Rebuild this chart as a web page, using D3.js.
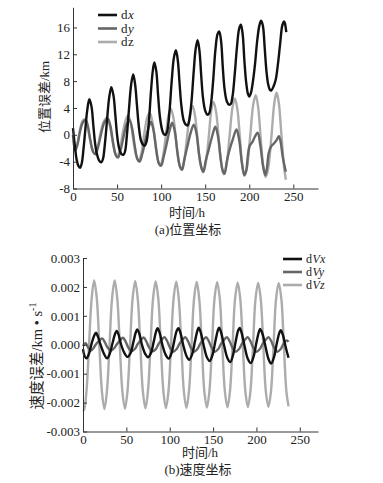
<!DOCTYPE html>
<html><head><meta charset="utf-8">
<script src="https://cdn.jsdelivr.net/npm/d3@7"></script>
<style>body{margin:0;background:#fff}text{font-family:"Liberation Serif","Noto Sans CJK SC",serif}</style>
</head><body>
<svg id="c" width="383" height="483"></svg>
<script>
// ---- panel (a) data: [time h, error km]
const dxPts=[[0,1.0],[2,-1.5],[4,-3.6],[6,-4.6],[8,-4.9],[10,-4.2],[12,-2.0],[14,0.8],[16,3.5],[18.5,5.3],[21,4.2],[23,1.5],[25,-1.2],[27,-2.8],[29.5,-3.8],[32,-4.1],[34,-3.6],[36,-1.6],[38.5,2.0],[41,5.5],[43.5,7.1],[46,5.8],[48,3.0],[50,0.0],[52,-1.8],[54.5,-2.8],[57,-3.0],[59,-2.5],[61,-0.3],[63.5,3.8],[66,7.5],[68.3,9.0],[70.5,7.5],[72.5,4.5],[74.5,1.5],[77,-0.8],[79.5,-1.5],[81.5,-1.6],[83.5,-1.0],[86,1.8],[88.5,6.5],[90.5,9.5],[92.3,10.8],[94.5,9.5],[96.5,6.0],[98.5,2.8],[101,0.8],[103,0.1],[105,0.0],[107,0.6],[109.5,3.5],[112,8.0],[114.5,11.5],[116.8,12.6],[119,11.0],[121,7.5],[123,4.3],[125.5,2.2],[128,1.5],[130,1.4],[132,2.2],[134.5,5.0],[137,9.5],[139.2,12.8],[141.4,14.1],[143.5,12.5],[145.5,8.8],[147.5,5.5],[150,3.6],[152.5,3.0],[154.5,3.2],[156.5,4.5],[159,8.0],[161.5,12.5],[164,15.0],[165.9,15.4],[168,14.0],[170,10.0],[172,6.8],[174.5,5.0],[177,4.5],[179,4.6],[181,5.7],[183.5,9.0],[186,13.0],[188.5,15.8],[190.5,16.4],[192.5,15.0],[194.5,11.0],[196.5,7.8],[198.5,6.1],[200,5.7],[202,6.3],[204,7.8],[206.5,10.5],[209,14.0],[211.5,16.3],[213.5,17.0],[215.5,16.2],[217.5,13.0],[219.5,9.5],[221.5,7.5],[223.5,6.7],[225,6.6],[227.5,7.2],[230,8.2],[232.5,10.5],[235,13.5],[237.5,16.3],[239.5,16.9],[240.5,16.6],[242,15.3]];
const dyPts=[[0,0.0],[2.5,-2.3],[5,-1.5],[8,0.5],[11,1.8],[14.5,2.2],[17,1.2],[20,-1.0],[23,-2.6],[25.5,-2.9],[28.5,-1.8],[32,0.2],[35.5,1.8],[39.5,2.4],[42.5,1.3],[45.5,-1.2],[48.5,-3.0],[51,-3.4],[54,-2.3],[57.5,-0.2],[61,1.6],[64,2.2],[67,1.0],[70,-1.6],[73,-3.6],[75.5,-4.0],[78.5,-2.9],[82,-0.9],[85.5,1.0],[88.5,1.9],[91.5,0.6],[94.5,-2.2],[97.5,-4.3],[100,-4.6],[103,-3.2],[106.5,-1.2],[109.5,0.6],[112.5,1.8],[115.5,0.5],[118.5,-2.6],[121.5,-4.8],[123.8,-5.2],[126.5,-3.6],[130,-1.6],[133.5,0.3],[137,1.5],[140,0.3],[143,-2.9],[146,-5.0],[148,-5.5],[150.5,-3.9],[154,-2.2],[157.5,-0.4],[161.5,1.2],[164.5,-0.2],[167.5,-3.5],[170,-5.4],[172,-5.8],[174.5,-4.0],[177.5,-2.3],[181.5,-0.6],[185.5,0.8],[188.5,-0.7],[191.5,-4.0],[194.5,-6.0],[196.5,-5.4],[198.5,-3.0],[200.5,-1.6],[203.5,-1.1],[206,-0.4],[209.5,0.3],[212.5,-1.5],[215.5,-4.5],[218.2,-6.0],[220,-5.0],[222,-2.8],[224.5,-1.8],[228,-1.3],[231,-0.8],[233.5,-0.2],[235.5,-1.0],[238,-3.3],[241.5,-5.5]];
const dzPts=[[0,0.0],[2.5,-2.4],[5,-1.3],[8,0.8],[11,2.1],[13.5,2.3],[16,1.5],[19,-0.5],[22,-2.2],[25,-2.8],[28,-1.8],[31.5,0.4],[35,2.0],[38.5,2.6],[41.5,1.5],[44.5,-0.6],[47.5,-2.6],[50,-3.3],[53,-2.3],[56.5,0.3],[60,2.3],[62.5,2.9],[65.5,1.8],[68.5,-0.8],[71.5,-3.0],[74.5,-3.9],[77.5,-2.8],[81,0.3],[84.5,2.7],[87,3.3],[90,2.0],[93,-0.9],[96,-3.6],[99,-4.6],[102,-3.3],[105.5,0.1],[108.5,3.0],[111,3.9],[114,2.5],[117,-0.9],[120,-4.0],[123,-5.2],[126,-3.9],[129.5,-0.2],[133,3.3],[135.7,4.3],[138.5,2.8],[141.5,-0.9],[144.5,-4.3],[147.5,-5.6],[150.5,-4.3],[154,-0.4],[157,3.7],[159.5,4.9],[162.5,3.3],[165.5,-0.8],[168.5,-4.5],[171,-5.9],[174,-4.6],[177.5,-0.4],[181,4.1],[183.7,5.4],[186.5,3.8],[189.5,-0.6],[192,-4.6],[194.5,-6.1],[197.5,-4.8],[201,-0.3],[204.5,4.5],[207.3,5.9],[210,4.2],[213,-0.5],[216,-4.9],[218.7,-6.3],[221.5,-5.0],[225,-0.5],[228.5,4.8],[231,6.3],[233.5,4.8],[236.5,0.0],[239.5,-4.8],[241.5,-6.7]];
const posNames=["dx","dy","dz"];
const posTicksX=[0,50,100,150,200,250];
const posTicksY=[-8,-4,0,4,8,12,16];

// ---- panel (b) data: [time h, error km/s]
const dVxPts=[[0,-0.00015],[2,-0.00040],[4,-0.00047],[7,-0.00030],[10,0.00005],[13,0.00032],[15,0.00042],[17,0.00030],[20,0.00002],[24,-0.00030],[27.8,-0.00047],[31,-0.00030],[34,0.00005],[37,0.00038],[38.8,0.00048],[41,0.00035],[44,0.00000],[48,-0.00030],[51.5,-0.00042],[55,-0.00028],[58,0.00008],[61,0.00044],[62.5,0.00053],[65,0.00038],[68,0.00000],[72,-0.00033],[75,-0.00043],[78.5,-0.00028],[81.5,0.00010],[84.5,0.00048],[86,0.00057],[88.5,0.00040],[91.5,0.00000],[95.5,-0.00036],[98.8,-0.00048],[102,-0.00030],[105,0.00010],[108,0.00048],[110,0.00057],[112.5,0.00040],[115.5,0.00000],[119.5,-0.00040],[122.5,-0.00052],[126,-0.00032],[129,0.00010],[132,0.00050],[133.4,0.00059],[136,0.00040],[139,0.00000],[143,-0.00044],[146,-0.00056],[149.5,-0.00034],[152.5,0.00010],[155.5,0.00050],[157,0.00059],[159.5,0.00040],[162.5,0.00000],[166.5,-0.00046],[169.8,-0.00060],[173,-0.00036],[176,0.00010],[179,0.00050],[180.7,0.00058],[183,0.00040],[186,0.00000],[190,-0.00048],[193.5,-0.00063],[197,-0.00038],[200,0.00008],[203,0.00046],[204.3,0.00055],[207,0.00038],[210,0.00000],[214,-0.00050],[217,-0.00065],[220.5,-0.00040],[223.5,0.00005],[226.5,0.00042],[228,0.00050],[230.5,0.00034],[233.5,-0.00005],[237,-0.00045]];
const dVyPts=[[0,-0.00005],[3,0.00005],[6,-0.00010],[9,-0.00020],[12,-0.00012],[15,0.00002],[19,0.00015],[22,0.00022],[25,0.00010],[28,-0.00008],[32,-0.00020],[36,-0.00012],[39,0.00002],[43,0.00016],[46,0.00024],[49,0.00012],[52,-0.00008],[56,-0.00022],[60,-0.00014],[63,0.00002],[67,0.00017],[70,0.00025],[73,0.00012],[76,-0.00008],[80,-0.00023],[84,-0.00015],[87,0.00002],[91,0.00018],[94,0.00026],[97,0.00013],[100,-0.00008],[104,-0.00024],[108,-0.00015],[111,0.00002],[115,0.00018],[118,0.00026],[121,0.00013],[124,-0.00008],[128,-0.00024],[132,-0.00015],[135,0.00002],[139,0.00018],[142,0.00026],[145,0.00013],[148,-0.00008],[152,-0.00024],[156,-0.00015],[159,0.00002],[163,0.00018],[166,0.00026],[169,0.00013],[172,-0.00008],[176,-0.00024],[180,-0.00015],[183,0.00002],[187,0.00018],[190,0.00026],[193,0.00013],[196,-0.00008],[200,-0.00024],[204,-0.00015],[207,0.00002],[211,0.00018],[214,0.00026],[217,0.00013],[220,-0.00008],[224,-0.00024],[228,-0.00015],[231,0.00002],[235,0.00015],[237,0.00010]];
const dVzPts=[[0,-0.00225],[1.1,-0.00226],[4,-0.00160],[7,0],[10,0.00160],[12.9,0.00222],[15.9,0.00160],[18.8,0],[21.8,-0.00160],[24.7,-0.00222],[27.6,-0.00160],[30.6,0],[33.5,0.00160],[36.5,0.00222],[39.5,0.00160],[42.4,0],[45.4,-0.00160],[48.4,-0.00221],[51.3,-0.00160],[54.3,0],[57.2,0.00160],[60.2,0.00220],[63.1,0.00160],[66.1,0],[69,-0.00160],[72,-0.00220],[74.9,-0.00160],[77.9,0],[80.8,0.00160],[83.8,0.00219],[86.8,0.00160],[89.7,0],[92.7,-0.00160],[95.6,-0.00219],[98.6,-0.00160],[101.5,0],[104.5,0.00160],[107.5,0.00218],[110.4,0.00160],[113.4,0],[116.3,-0.00160],[119.3,-0.00218],[122.2,-0.00160],[125.2,0],[128.1,0.00160],[131.1,0.00217],[134,0.00160],[137,0],[139.9,-0.00160],[142.9,-0.00217],[145.8,-0.00160],[148.8,0],[151.7,0.00160],[154.7,0.00216],[157.7,0.00160],[160.6,0],[163.6,-0.00160],[166.6,-0.00216],[169.5,-0.00160],[172.5,0],[175.4,0.00160],[178.4,0.00215],[181.3,0.00160],[184.3,0],[187.2,-0.00160],[190.2,-0.00215],[193.1,-0.00160],[196.1,0],[199,0.00160],[202,0.00214],[204.9,0.00160],[207.9,0],[210.8,-0.00160],[213.8,-0.00214],[216.8,-0.00160],[219.8,0],[222.7,0.00160],[225.7,0.00213],[228.7,0.00160],[231.6,0],[234.5,-0.00160],[237,-0.00213]];
const velNames=["dVx","dVy","dVz"];
const velTicksX=[0,50,100,150,200,250];
const velTicksY=[-0.003,-0.002,-0.001,0,0.001,0.002,0.003];

const colors=["#111111","#666666","#acacac"];
const svg=d3.select("#c");

function drawAxes(x,y,xt,yt,xMinor,yMinor,yFmt){
  const gx=svg.append("g").attr("transform",`translate(0,${y.range()[0]})`);
  gx.call(d3.axisBottom(x).tickValues(xMinor).tickFormat("").tickSizeInner(-2).tickSizeOuter(0));
  gx.call(d3.axisBottom(x).tickValues(xt).tickSizeInner(-4).tickSizeOuter(0).tickPadding(3));
  const gy=svg.append("g").attr("transform",`translate(${x.range()[0]},0)`);
  gy.call(d3.axisLeft(y).tickValues(yMinor).tickFormat("").tickSizeInner(-2).tickSizeOuter(0));
  gy.call(d3.axisLeft(y).tickValues(yt).tickFormat(yFmt).tickSizeInner(-4).tickSizeOuter(0).tickPadding(3));
  svg.selectAll("g path.domain").attr("stroke","#333");
  svg.selectAll("g .tick line").attr("stroke","#333");
  svg.selectAll("g .tick text").attr("font-size",13).attr("fill","#222").attr("font-family",'"Liberation Serif",serif');
}
function plotLines(x,y,list){
  const line=d3.line().x(d=>x(d[0])).y(d=>y(d[1])).curve(d3.curveCatmullRom.alpha(0.5));
  list.forEach(([s,i])=>svg.append("path").attr("d",line(s)).attr("fill","none")
    .attr("stroke",colors[i]).attr("stroke-width",2.4).attr("stroke-linejoin","round"));
}
function legend(names,x0,y0,step,fs,italicFn){
  names.forEach((n,i)=>{
    const yy=y0+i*step;
    svg.append("line").attr("x1",x0).attr("x2",x0+19).attr("y1",yy).attr("y2",yy).attr("stroke",colors[i]).attr("stroke-width",2.6);
    const t=svg.append("text").attr("x",x0+23).attr("y",yy+fs*0.34).attr("font-size",fs).attr("fill","#222");
    t.append("tspan").text("d");
    t.append("tspan").attr("dx",0.6).attr("font-style",italicFn(i)?"italic":"normal").text(n.slice(1));
  });
}

// ---- panel (a)
const xA=d3.scaleLinear().domain([0,278]).range([73,318]);
const yA=d3.scaleLinear().domain([-8,19]).range([188.5,7.3]);
plotLines(xA,yA,[[dzPts,2],[dyPts,1],[dxPts,0]]);
drawAxes(xA,yA,posTicksX,posTicksY,d3.range(25,278,50),d3.range(-6,19,4),d3.format("d"));
legend(posNames,98,15,13.5,13,i=>i<2);
svg.append("text").attr("x",187).attr("y",217).attr("text-anchor","middle").attr("font-size",13).attr("fill","#222").text("时间/h");
svg.append("text").attr("x",188).attr("y",234).attr("text-anchor","middle").attr("font-size",13).attr("fill","#222").text("(a)位置坐标");
svg.append("text").attr("transform","translate(49,97) rotate(-90)").attr("text-anchor","middle").attr("font-size",13).attr("fill","#222").text("位置误差/km");

// ---- panel (b)
const xB=d3.scaleLinear().domain([0,271]).range([83,318]);
const yB=d3.scaleLinear().domain([-0.003,0.003]).range([431.5,258]);
plotLines(xB,yB,[[dVzPts,2],[dVyPts,1],[dVxPts,0]]);
drawAxes(xB,yB,velTicksX,velTicksY,d3.range(25,271,50),[-0.0025,-0.0015,-0.0005,0.0005,0.0015,0.0025],d3.format(".3f"));
svg.selectAll("text").each(function(){const s=d3.select(this);if(s.text().startsWith("−"))s.text(s.text().replace("−","-"));});
legend(velNames,283,259,13,12,()=>true);
svg.append("text").attr("x",200).attr("y",457).attr("text-anchor","middle").attr("font-size",13).attr("fill","#222").text("时间/h");
svg.append("text").attr("x",198).attr("y",474).attr("text-anchor","middle").attr("font-size",13).attr("fill","#222").text("(b)速度坐标");
{
  const t=svg.append("text").attr("transform","translate(42,356) rotate(-90)").attr("text-anchor","middle").attr("font-size",14.5).attr("fill","#222");
  t.append("tspan").text("速度误差/km • s");
  t.append("tspan").attr("font-size",10).attr("dy",-6).text("-1");
}
</script>
</body></html>
